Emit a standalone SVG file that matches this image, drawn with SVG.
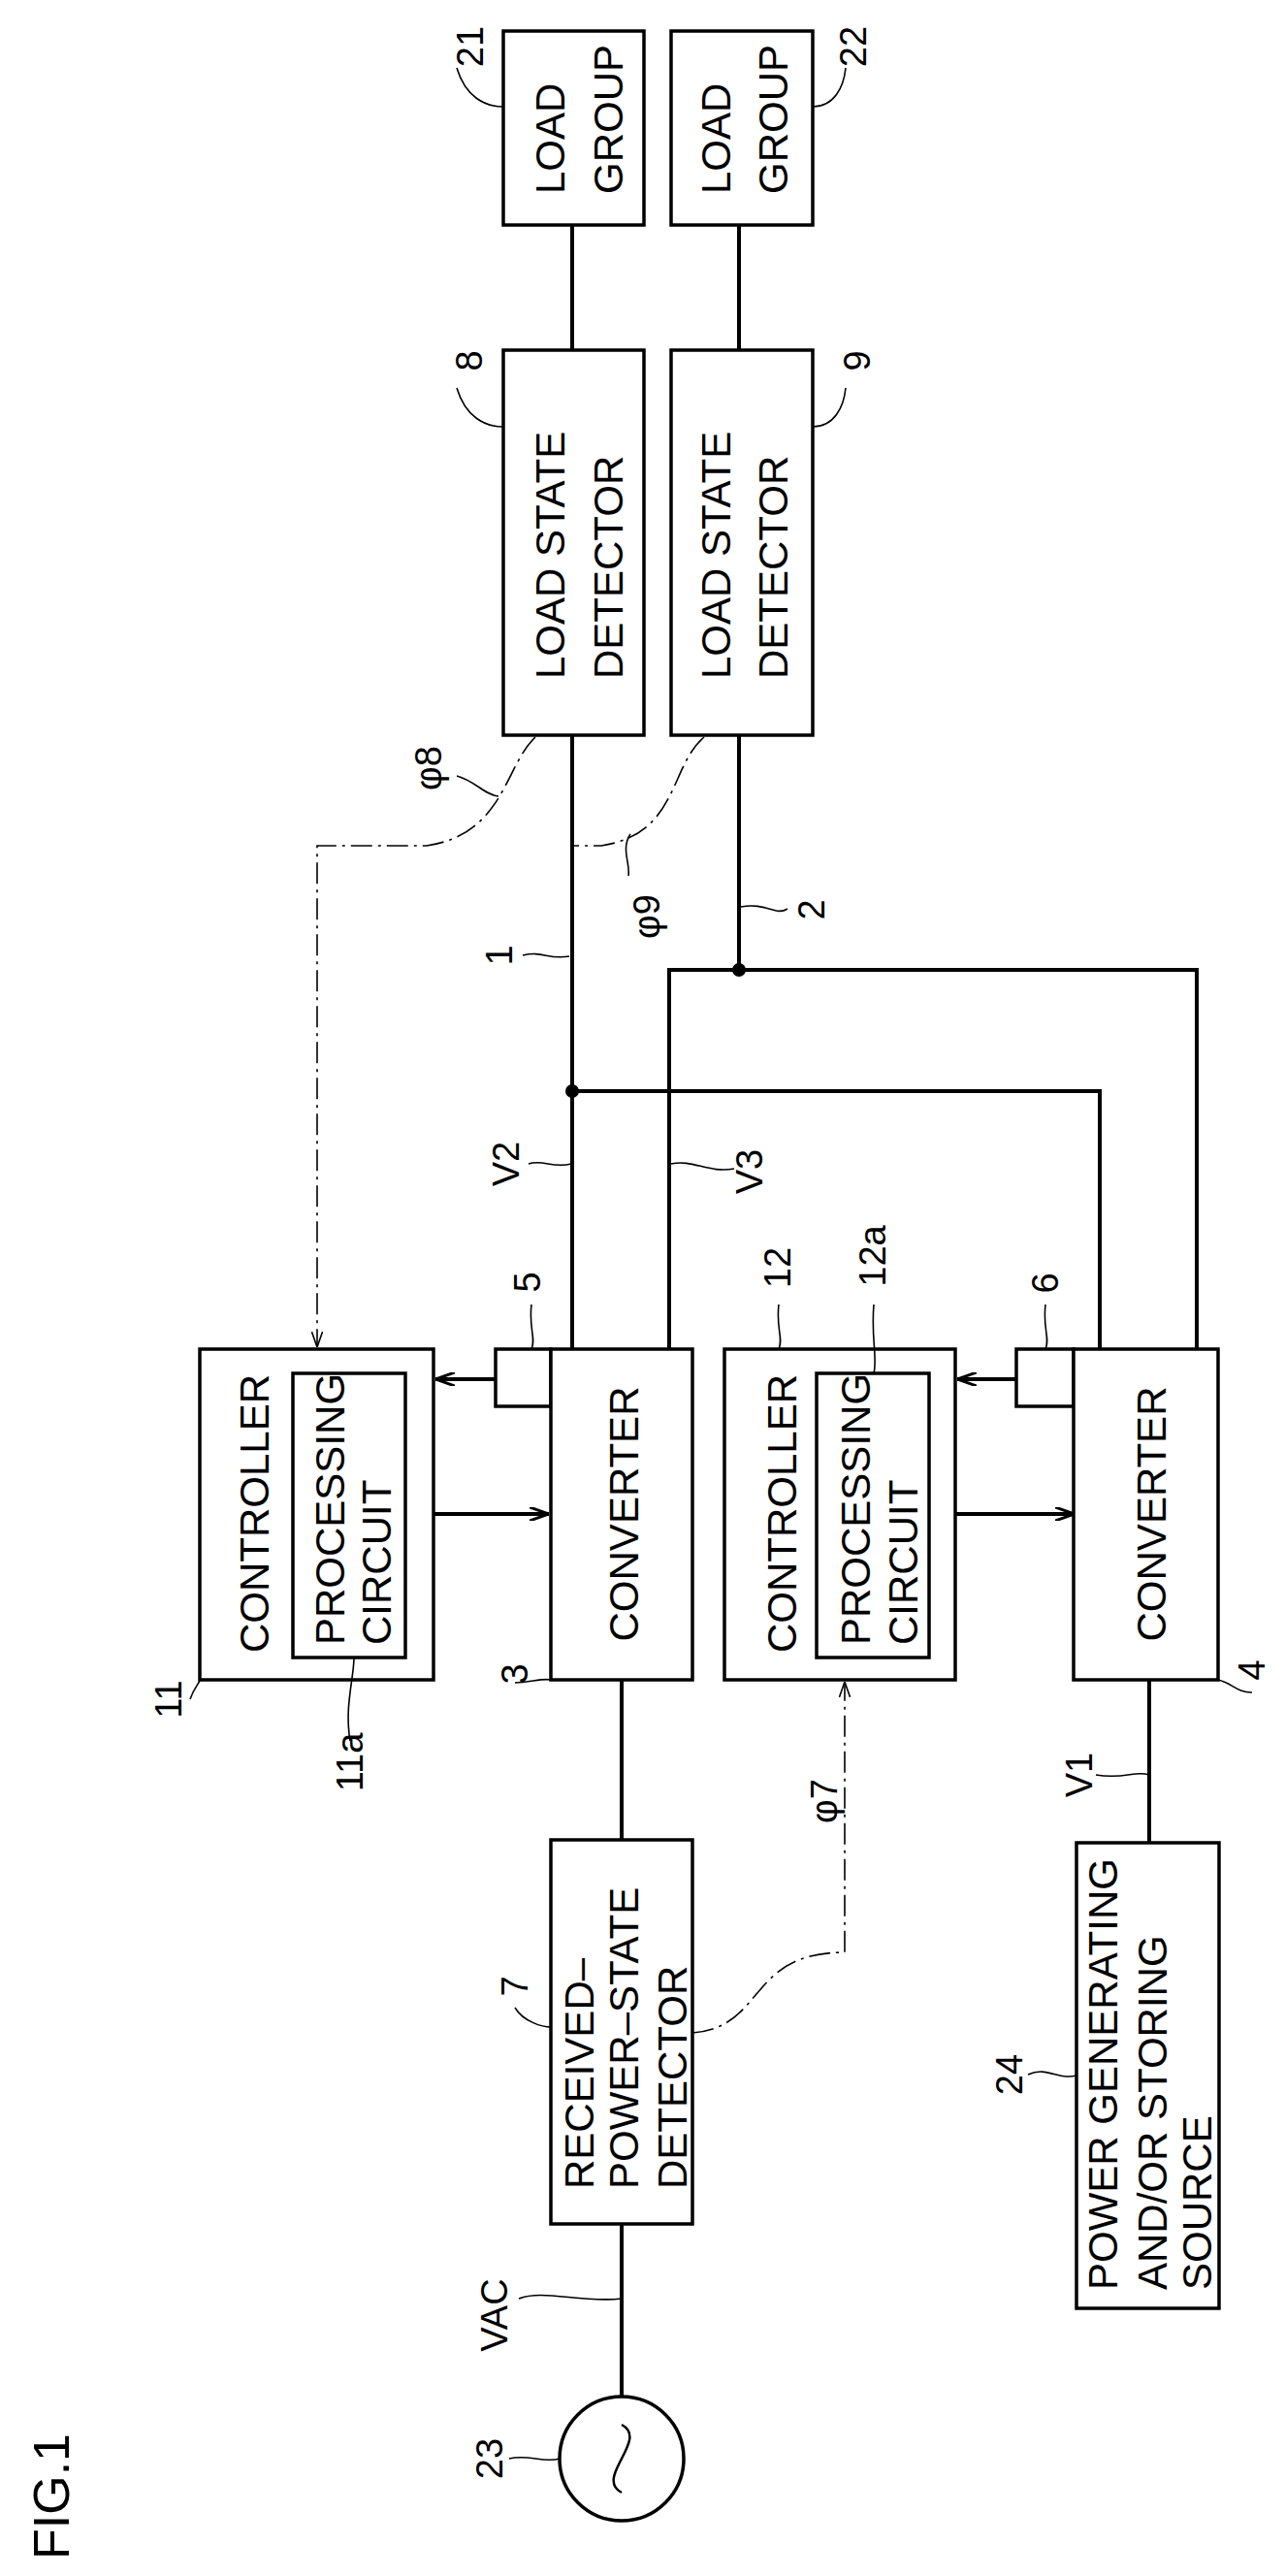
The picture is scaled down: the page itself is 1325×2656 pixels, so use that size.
<svg xmlns="http://www.w3.org/2000/svg" width="1325" height="2656" viewBox="0 0 1325 2656">
<style>
.b{fill:#fff;stroke:#000;stroke-width:3.5}
.w{fill:none;stroke:#000;stroke-width:4}
.s{fill:none;stroke:#000;stroke-width:4}
.d{fill:none;stroke:#000;stroke-width:1.6;stroke-dasharray:22 6 3 6}
.l{fill:none;stroke:#000;stroke-width:1.6}
text{font-family:"Liberation Sans",Arial,sans-serif;font-size:42px;fill:#000;dominant-baseline:central}
.n{font-size:38px;text-anchor:middle}
.m{text-anchor:middle}
</style>
<defs>
<marker id="a" viewBox="0 0 20 14" refX="20" refY="7" markerWidth="20" markerHeight="14" markerUnits="userSpaceOnUse" orient="auto"><path d="M0,0 L20,7 L0,14" fill="none" stroke="#000" stroke-width="3"/></marker>
<marker id="ad" viewBox="0 0 20 14" refX="20" refY="7" markerWidth="16" markerHeight="12" markerUnits="userSpaceOnUse" orient="auto"><path d="M0,0 L20,7 L0,14" fill="none" stroke="#000" stroke-width="2"/></marker>
</defs>
<g id="connectors">
<path class="w" d="M590,232V361M762,232V361M590,758V1391M762,758V1000M690,1391V1000H1234V1391M590,1125H1134V1391M641,1732V1897M641,2293V2470M1185,1732V1900"/>
<circle cx="590" cy="1125" r="7"/><circle cx="762" cy="1000" r="7"/>
<path class="s" d="M511,1422H449" marker-end="url(#a)"/>
<path class="s" d="M447,1561H566" marker-end="url(#a)"/>
<path class="s" d="M1048,1422H987" marker-end="url(#a)"/>
<path class="s" d="M985,1561H1108" marker-end="url(#a)"/>
<path class="d" d="M552,760C520,790 520,860 440,872H327V1389" marker-end="url(#ad)"/>
<path class="d" d="M726,760C690,790 700,860 620,872H590"/>
<path class="d" d="M714,2096C790,2090 770,2013 871,2013V1734" marker-end="url(#ad)"/>
</g>
<g id="n21"><rect class="b" x="519" y="32" width="145" height="200"/><text transform="translate(567,200) rotate(-90)">LOAD</text><text transform="translate(627,200) rotate(-90)">GROUP</text></g>
<g id="n22"><rect class="b" x="692" y="32" width="146" height="200"/><text transform="translate(738,200) rotate(-90)">LOAD</text><text transform="translate(797,200) rotate(-90)">GROUP</text></g>
<g id="n8"><rect class="b" x="519" y="361" width="145" height="397"/><text transform="translate(567,700) rotate(-90)">LOAD STATE</text><text transform="translate(627,700) rotate(-90)">DETECTOR</text></g>
<g id="n9"><rect class="b" x="692" y="361" width="146" height="397"/><text transform="translate(738,700) rotate(-90)">LOAD STATE</text><text transform="translate(797,700) rotate(-90)">DETECTOR</text></g>
<g id="n11"><rect class="b" x="206" y="1391" width="241" height="341"/><rect class="b" x="302" y="1416" width="116" height="293"/><text transform="translate(262,1704) rotate(-90)">CONTROLLER</text><text transform="translate(340,1696) rotate(-90)">PROCESSING</text><text transform="translate(388,1696) rotate(-90)">CIRCUIT</text></g>
<g id="n5"><rect class="b" x="511" y="1391" width="57" height="59"/></g>
<g id="n3"><rect class="b" x="568" y="1391" width="146" height="341"/><text class="m" transform="translate(643,1561) rotate(-90)">CONVERTER</text></g>
<g id="n12"><rect class="b" x="747" y="1391" width="238" height="341"/><rect class="b" x="842" y="1416" width="116" height="293"/><text transform="translate(806,1704) rotate(-90)">CONTROLLER</text><text transform="translate(882,1696) rotate(-90)">PROCESSING</text><text transform="translate(931,1696) rotate(-90)">CIRCUIT</text></g>
<g id="n6"><rect class="b" x="1048" y="1391" width="59" height="59"/></g>
<g id="n4"><rect class="b" x="1107" y="1391" width="149" height="341"/><text class="m" transform="translate(1187,1561) rotate(-90)">CONVERTER</text></g>
<g id="n7"><rect class="b" x="568" y="1897" width="146" height="396"/><text transform="translate(597,2257) rotate(-90)">RECEIVED–</text><text transform="translate(643,2257) rotate(-90)">POWER–STATE</text><text transform="translate(693,2257) rotate(-90)">DETECTOR</text></g>
<g id="n24"><rect class="b" x="1110" y="1900" width="147" height="480"/><text transform="translate(1137,2361) rotate(-90)">POWER GENERATING</text><text transform="translate(1188,2361) rotate(-90)">AND/OR STORING</text><text transform="translate(1234,2361) rotate(-90)">SOURCE</text></g>
<g id="n23"><circle class="b" cx="641" cy="2535" r="64"/><path class="l" d="M641,2500C670,2515 612,2555 641,2570" style="stroke-width:2.5"/></g>
<g id="labels">
<path class="l" d="M471,70C480,100 500,110 519,110M838,110C860,110 870,90 872,70M471,400C480,430 500,440 519,440M838,440C860,440 870,420 872,400M471,800C490,805 500,820 514,821M648,903C650,890 640,875 650,860M539,985C560,980 565,990 587,986M764,935C790,930 800,945 812,937M545,1200C560,1195 570,1205 589,1200M692,1200C715,1195 730,1210 757,1205M196,1752C200,1740 206,1735 206,1732M361,1795C355,1760 365,1730 365,1709M548,1345C545,1370 553,1380 548,1391M531,1735C545,1735 560,1730 568,1732M1256,1732C1270,1735 1275,1745 1291,1745M803,1345C800,1370 808,1380 803,1391M901,1345C898,1380 905,1400 901,1416M1078,1345C1075,1370 1083,1380 1078,1391M1185,1830C1170,1825 1160,1835 1130,1830M531,2070C540,2085 560,2090 568,2090M535,2370C560,2360 600,2375 641,2370M525,2535C545,2530 560,2540 577,2535M1060,2139C1080,2130 1090,2145 1110,2140"/>
<text class="n" transform="translate(485,48) rotate(-90)">21</text>
<text class="n" transform="translate(880,48) rotate(-90)">22</text>
<text class="n" transform="translate(484,372) rotate(-90)">8</text>
<text class="n" transform="translate(884,372) rotate(-90)">9</text>
<text class="n" transform="translate(442,792) rotate(-90)">φ8</text>
<text class="n" transform="translate(667,945) rotate(-90)">φ9</text>
<text class="n" transform="translate(515,985) rotate(-90)">1</text>
<text class="n" transform="translate(837,938) rotate(-90)">2</text>
<text class="n" transform="translate(522,1200) rotate(-90)">V2</text>
<text class="n" transform="translate(773,1208) rotate(-90)">V3</text>
<text class="n" transform="translate(544,1322) rotate(-90)">5</text>
<text class="n" transform="translate(802,1307) rotate(-90)">12</text>
<text class="n" transform="translate(900,1295) rotate(-90)">12a</text>
<text class="n" transform="translate(1078,1323) rotate(-90)">6</text>
<text class="n" transform="translate(174,1752) rotate(-90)">11</text>
<text class="n" transform="translate(361,1817) rotate(-90)">11a</text>
<text class="n" transform="translate(531,1726) rotate(-90)">3</text>
<text class="n" transform="translate(1291,1722) rotate(-90)">4</text>
<text class="n" transform="translate(1113,1830) rotate(-90)">V1</text>
<text class="n" transform="translate(850,1857) rotate(-90)">φ7</text>
<text class="n" transform="translate(531,2048) rotate(-90)">7</text>
<text class="n" transform="translate(510,2387) rotate(-90)">VAC</text>
<text class="n" transform="translate(505,2535) rotate(-90)">23</text>
<text class="n" transform="translate(1041,2139) rotate(-90)">24</text>
<text transform="translate(53,2639) rotate(-90)" style="font-size:52px">FIG.1</text>
</g>
</svg>
